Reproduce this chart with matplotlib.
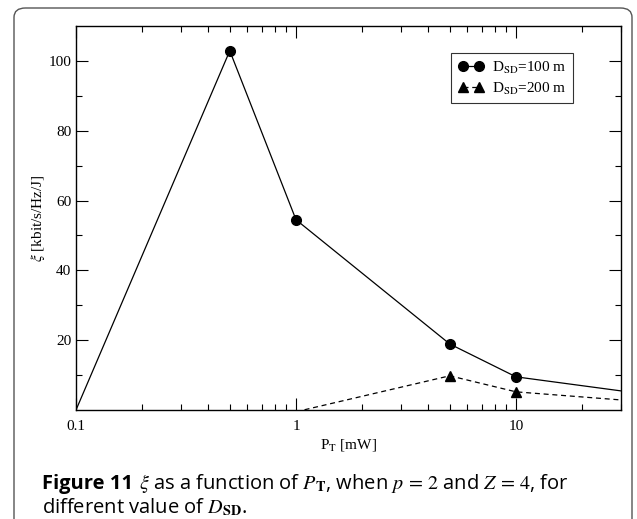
import matplotlib
matplotlib.use("Agg")
import matplotlib.pyplot as plt
from matplotlib.patches import FancyBboxPatch

# данные графика
p_t = [0.1, 0.5, 1, 5, 10, 50]
xi_100 = [0.0, 102.9, 54.5, 18.9, 9.5, 3.6]
p_t_200 = [1, 5, 10, 50]
xi_200 = [-0.5, 9.8, 5.2, 1.8]

x_ticks = [0.1, 1, 10]
x_tick_labels = ["0.1", "1", "10"]
y_ticks = [20, 40, 60, 80, 100]

plt.rcParams["mathtext.fontset"] = "stix"
serif = "Liberation Serif"

W, H = 637, 519
fig = plt.figure(figsize=(W / 100, H / 100), dpi=100)

# рамка вокруг рисунка (снизу обрезана)
frame = FancyBboxPatch((14 / W, -20 / H), 618 / W, (H + 20 - 8) / H,
                       boxstyle="round,pad=0,rounding_size=0.018",
                       transform=fig.transFigure, fill=False,
                       edgecolor="#555555", linewidth=1.0)
fig.patches.append(frame)

ax = fig.add_axes([76 / W, 1 - 410 / H, 545 / W, 384 / H])

ax.plot(p_t, xi_100, color="black", linewidth=0.9, marker="o",
        markersize=7, markevery=[1, 2, 3, 4], label=r"D$_{\rm SD}$=100 m")
ax.plot(p_t_200, xi_200, color="black", linewidth=0.9, linestyle=(0, (4, 3)),
        marker="^", markersize=7, markevery=[1, 2], label=r"D$_{\rm SD}$=200 m")

ax.set_xscale("log")
ax.set_xlim(0.1, 30)
ax.set_ylim(0, 110)
ax.set_xticks(x_ticks)
ax.set_xticklabels(x_tick_labels)
ax.set_yticks(y_ticks)
ax.set_yticks(range(10, 110, 20), minor=True)

ax.tick_params(which="both", direction="in", top=True, right=True,
               labelsize=11, colors="black", width=0.8)
ax.tick_params(which="major", length=8.5)
ax.tick_params(which="minor", length=4.5)
ax.tick_params(axis="x", which="major", pad=7)
for lab in ax.get_xticklabels() + ax.get_yticklabels():
    lab.set_fontfamily(serif)
for s in ax.spines.values():
    s.set_linewidth(1.0)

ax.set_xlabel(r"P$_{\rm T}$ [mW]", fontfamily=serif, fontsize=11, labelpad=3)
ax.set_ylabel(r"$\xi$ [kbit/s/Hz/J]", fontfamily=serif, fontsize=11, labelpad=1)

leg = ax.legend(loc="upper right", bbox_to_anchor=(0.912, 0.93),
                borderaxespad=0, numpoints=2,
                prop={"family": serif, "size": 11}, frameon=True,
                fancybox=False, edgecolor="black", handlelength=1.7,
                handletextpad=0.5, borderpad=0.45, labelspacing=0.3)
leg.get_frame().set_linewidth(0.8)

# подпись рисунка
cap_font = "Open Sans"
cap_size = 14.5
y1 = 1 - 489 / H
y2 = 1 - 513 / H
t0 = fig.text(42 / W, y1, "Figure 11", fontfamily=cap_font,
              fontweight="bold", fontsize=cap_size, va="baseline", ha="left")
fig.canvas.draw()
bb = t0.get_window_extent()
fig.text((bb.x1 + 6) / W, y1,
         r"$\xi$ as a function of $P_{\mathbf{T}}$, when $p\,=\,2$ and $Z\,=\,4$, for",
         fontfamily=cap_font, fontsize=cap_size, va="baseline", ha="left")
fig.text(42 / W, y2, r"different value of $D_{\mathbf{SD}}$.",
         fontfamily=cap_font, fontsize=cap_size, va="baseline", ha="left")

fig.savefig("out.png", dpi=100)
